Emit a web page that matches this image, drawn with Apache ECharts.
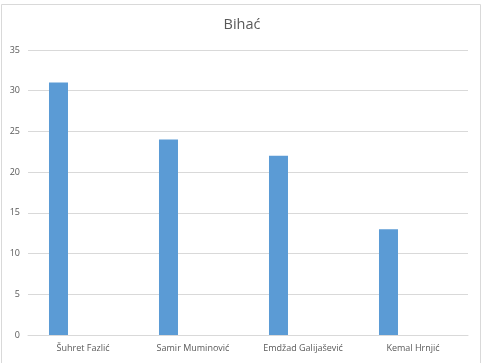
<!DOCTYPE html>
<html><head><meta charset="utf-8">
<script src="https://cdn.jsdelivr.net/npm/echarts@6/dist/echarts.min.js"></script>
<style>html,body{margin:0;padding:0;background:#fff}#c{width:484px;height:363px}</style>
</head><body><div id="c"></div>
<script>
const title = 'Bihać';
const categories = ['Šuhret Fazlić', 'Samir Muminović', 'Emdžad Galijašević', 'Kemal Hrnjić'];
const values = [31, 24, 22, 13];
const emptySeries = [null, null, null, null];
const yMin = 0, yMax = 35, yStep = 5;

const chart = echarts.init(document.getElementById('c'), null, {renderer: 'canvas'});
chart.setOption({
  animation: false,
  backgroundColor: '#fff',
  title: {text: title, left: 'center', top: 12,
    textStyle: {fontFamily: 'Open Sans', fontSize: 14.5, fontWeight: 'normal', color: '#595959'}},
  graphic: [{type: 'rect', shape: {x: 1.5, y: 4.5, width: 479, height: 370},
    style: {fill: 'none', stroke: '#d9d9d9', lineWidth: 1}, silent: true}],
  grid: {left: 28, right: 16, top: 50, bottom: 28, containLabel: false},
  xAxis: {type: 'category', data: categories,
    axisLine: {lineStyle: {color: '#d9d9d9'}}, axisTick: {show: false},
    axisLabel: {fontFamily: 'Open Sans', fontSize: 9, color: '#595959', margin: 9, interval: 0}},
  yAxis: {type: 'value', min: yMin, max: yMax, interval: yStep,
    axisLine: {show: false}, axisTick: {show: false},
    splitLine: {lineStyle: {color: '#d9d9d9'}},
    axisLabel: {fontFamily: 'Open Sans', fontSize: 9, color: '#595959', margin: 8}},
  series: [
    {type: 'bar', data: values, barWidth: 19, barGap: '158%', itemStyle: {color: '#5b9bd5'}},
    {type: 'bar', data: emptySeries, barWidth: 19, itemStyle: {color: '#ed7d31'}}
  ]
});
</script></body></html>
